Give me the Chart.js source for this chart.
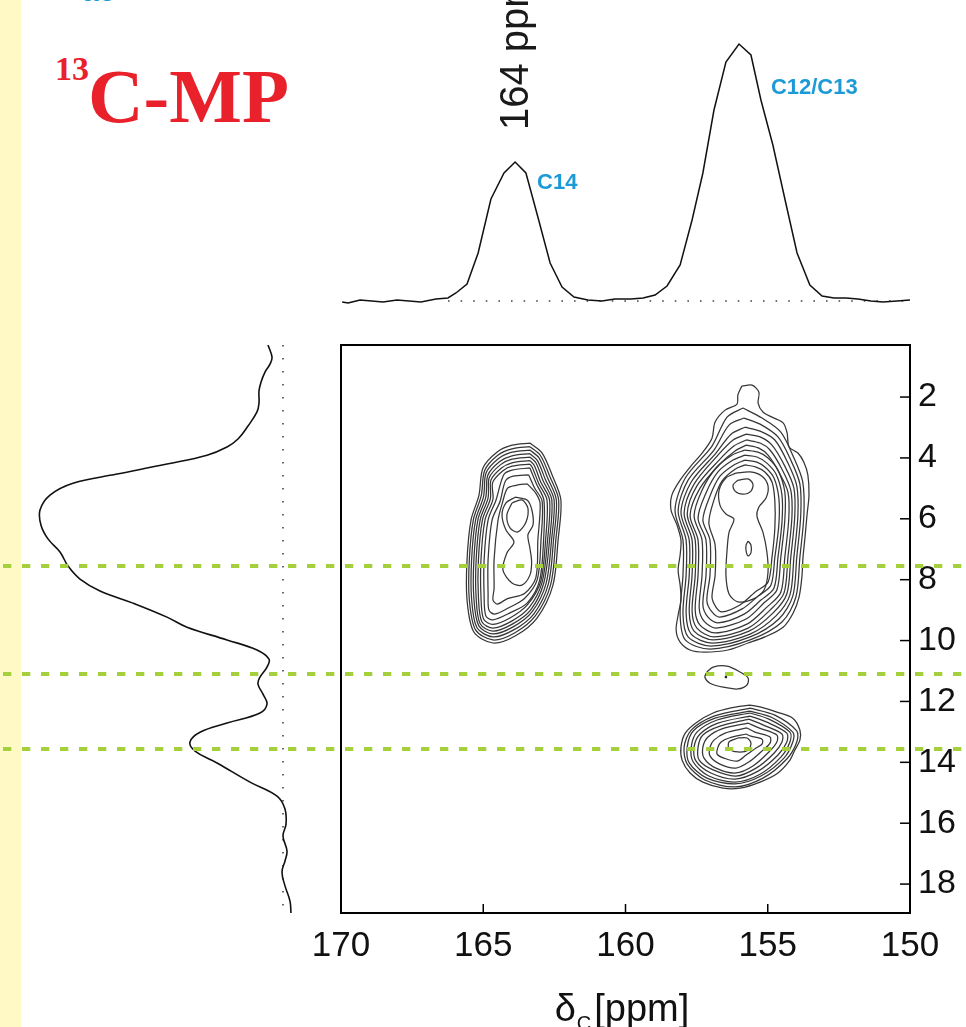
<!DOCTYPE html>
<html>
<head>
<meta charset="utf-8">
<script src="https://cdn.jsdelivr.net/npm/chart.js@4.4.1/dist/chart.umd.min.js"></script>
<style>
html,body{margin:0;padding:0;background:#fff;width:966px;height:1027px;overflow:hidden;}
#strip{position:absolute;left:0;top:0;width:21px;height:1027px;background:#fff9c6;}
canvas{position:absolute;left:0;top:0;}
.t{position:absolute;white-space:nowrap;line-height:1;}
#blue{left:82px;top:-26px;font:bold 30px "Liberation Sans";color:#1b9ad7;}
#sup{left:55px;top:50px;font:bold 34px "Liberation Serif";color:#e8212b;}
#cmp{left:88px;top:52px;font:bold 77px "Liberation Serif";color:#e8212b;}
</style>
</head>
<body>
<div id="strip"></div>
<div class="t" id="blue">ac</div>
<div class="t" id="sup">13</div>
<div class="t" id="cmp">C-MP</div>
<canvas id="left" width="966" height="1027"></canvas>
<canvas id="topc" width="966" height="1027"></canvas>
<canvas id="main" width="966" height="1027"></canvas>
<script>
// ---------- data ----------
const xTicks = [170, 165, 160, 155, 150];
const yTicks = [2, 4, 6, 8, 10, 12, 14, 16, 18];
const greenLines = [7.55, 11.1, 13.56];

// F2 (direct) projection
const topShift = [169.96,169.75,169.33,168.52,168.03,167.19,166.66,166.24,165.96,165.57,165.18,164.73,164.27,163.88,163.50,163.08,162.65,162.23,161.81,161.32,160.83,160.37,159.81,159.38,158.96,158.54,158.08,157.66,157.28,156.89,156.47,156.01,155.59,155.24,154.82,154.39,153.97,153.52,153.09,152.67,152.25,151.83,151.37,150.95,150.46,150.00];
const topIntensity = [-2,-3,0,-2,0,-2,1,2,7,16,47,101,127,138,127,83,37,13,3,0,-1,1,1,2,5,14,35,80,127,190,238,256,245,200,155,100,47,15,4,2,2,1,-1,-2,-1,0];

// F1 (indirect) projection
const leftShift = [0.29,0.69,0.92,1.18,1.51,1.80,2.20,2.49,2.95,3.38,3.64,3.91,4.20,4.53,4.83,5.22,5.71,6.21,6.66,7.09,7.55,7.98,8.37,8.77,9.23,9.56,9.98,10.31,10.61,10.87,11.20,11.43,11.76,12.09,12.38,12.71,13.01,13.33,13.63,14.02,14.65,15.11,15.53,16.03,16.42,16.91,17.24,17.60,18.06,18.56,18.98];
const leftIntensity = [15,11,13,18,22,24,24,26,35,45,56,76,116,166,210,233,243,242,235,223,215,203,183,150,116,96,56,26,14,16,23,25,20,16,23,56,83,93,88,66,33,6,-2,-3,0,-4,-2,1,-2,-7,-8];

const peakLabels = ['C14', 'C12/C13'];
const peakLabelShift = [163.11, 154.89];
const peakLabelIntensity = [117, 212];
const markerText = '164 ppm';
const markerShift = 164;
const markerIntensity = 170;

// contour rings [shift F2, shift F1]
const c14Rings = [
 [[163.36,3.51],[162.93,3.84],[162.58,4.56],[162.27,5.38],[162.37,6.70],[162.55,8.18],[163.11,9.26],[163.88,9.85],[164.66,10.08],[165.33,9.72],[165.57,8.67],[165.57,7.35],[165.43,6.04],[165.15,5.22],[165.01,4.33],[164.52,3.81],[163.99,3.58]],
 [[163.36,3.63],[162.99,3.92],[162.66,4.61],[162.35,5.38],[162.45,6.70],[162.63,8.16],[163.17,9.19],[163.90,9.75],[164.66,9.98],[165.27,9.65],[165.49,8.65],[165.49,7.35],[165.35,6.04],[165.07,5.24],[164.95,4.41],[164.49,3.91],[163.99,3.70]],
 [[163.36,3.74],[163.04,4.00],[162.74,4.65],[162.43,5.38],[162.53,6.70],[162.71,8.14],[163.22,9.12],[163.93,9.65],[164.66,9.88],[165.22,9.58],[165.41,8.63],[165.41,7.35],[165.27,6.04],[164.99,5.27],[164.90,4.49],[164.46,4.02],[163.99,3.81]],
 [[163.36,3.86],[163.10,4.08],[162.82,4.70],[162.51,5.38],[162.60,6.70],[162.79,8.12],[163.28,9.05],[163.95,9.55],[164.66,9.78],[165.16,9.51],[165.33,8.61],[165.33,7.35],[165.19,6.04],[164.91,5.29],[164.84,4.57],[164.42,4.12],[163.99,3.93]],
 [[163.36,3.97],[163.15,4.16],[162.90,4.74],[162.59,5.38],[162.67,6.70],[162.87,8.10],[163.33,8.99],[163.98,9.46],[164.66,9.69],[165.11,9.45],[165.25,8.59],[165.25,7.35],[165.11,6.04],[164.83,5.31],[164.79,4.65],[164.39,4.22],[163.99,4.04]],
 [[163.36,4.09],[163.21,4.24],[162.98,4.79],[162.67,5.38],[162.74,6.70],[162.93,8.08],[163.39,8.92],[164.00,9.36],[164.66,9.59],[165.05,9.38],[165.17,8.57],[165.17,7.35],[165.03,6.04],[164.75,5.34],[164.73,4.73],[164.36,4.33],[163.99,4.16]],
 [[163.36,4.20],[163.27,4.32],[163.05,4.84],[162.76,5.38],[162.81,6.70],[162.98,8.06],[163.45,8.83],[164.03,9.24],[164.66,9.47],[164.99,9.29],[165.08,8.55],[165.08,7.35],[164.94,6.04],[164.66,5.36],[164.67,4.81],[164.32,4.43],[163.99,4.27]],
 [[163.36,4.33],[163.12,4.87],[162.87,5.38],[162.88,6.70],[163.02,8.03],[163.45,8.76],[164.06,9.09],[164.66,9.32],[164.91,9.19],[164.97,8.52],[164.97,7.35],[164.83,6.04],[164.55,5.38],[164.28,4.55],[163.99,4.40]],
 [[163.40,4.56],[163.20,4.98],[162.93,5.42],[162.97,6.70],[163.10,7.99],[163.55,8.62],[164.10,8.92],[164.60,9.13],[164.80,9.00],[164.83,8.48],[164.83,7.35],[164.69,6.04],[164.41,5.43],[164.22,4.76],[163.95,4.60]],
 [[163.45,4.85],[163.16,5.15],[163.00,5.50],[163.08,6.70],[163.15,7.93],[163.55,8.45],[164.15,8.62],[164.50,8.80],[164.66,8.66],[164.62,8.30],[164.62,7.35],[164.48,6.04],[164.32,5.45],[164.15,5.00],[163.85,4.90]],
 [[163.88,5.29],[163.46,5.38],[163.29,5.71],[163.25,6.20],[163.43,6.53],[163.36,6.96],[163.30,7.42],[163.36,7.85],[163.64,8.18],[163.99,8.11],[164.31,7.68],[164.17,7.12],[163.92,6.76],[164.20,6.37],[164.34,5.88],[164.20,5.48]],
 [[163.99,5.48],[163.64,5.38],[163.43,5.65],[163.50,6.11],[163.78,6.43],[164.06,6.30],[164.17,5.88]]
];

const c1213Rings = [
 [[155.91,1.64],[155.55,1.61],[155.31,1.84],[155.34,2.20],[155.17,2.49],[154.85,2.66],[154.46,2.85],[154.32,3.18],[154.25,3.64],[153.94,3.84],[153.73,4.14],[153.59,4.56],[153.55,5.22],[153.62,5.88],[153.69,6.60],[153.76,7.26],[153.80,7.91],[153.90,8.57],[154.11,9.10],[154.46,9.56],[155.10,9.88],[155.69,10.08],[156.40,10.31],[157.21,10.38],[157.73,10.31],[158.08,10.05],[158.22,9.66],[158.15,9.16],[158.05,8.67],[158.08,8.18],[158.15,7.68],[158.08,7.19],[158.05,6.70],[158.19,6.20],[158.40,5.71],[158.37,5.22],[158.08,4.73],[157.73,4.30],[157.28,3.81],[156.96,3.35],[156.85,2.82],[156.50,2.43],[156.08,2.23],[156.05,1.93]],
 [[155.87,2.36],[155.20,2.69],[154.54,3.15],[154.08,4.00],[153.77,4.79],[153.73,5.88],[153.87,7.26],[154.01,8.57],[154.50,9.39],[155.62,9.98],[157.03,10.28],[157.90,9.98],[158.08,9.16],[157.98,7.85],[157.98,6.70],[158.26,5.71],[157.90,4.66],[156.96,3.61],[156.43,2.66]],
 [[155.83,2.69],[155.27,2.89],[154.64,3.31],[154.19,4.07],[153.87,4.86],[153.84,5.88],[153.98,7.26],[154.12,8.54],[154.61,9.29],[155.62,9.88],[157.00,10.18],[157.80,9.88],[157.98,9.13],[157.87,7.85],[157.87,6.70],[158.15,5.74],[157.80,4.73],[156.89,3.74],[156.36,2.92]],
 [[155.80,2.99],[155.27,3.12],[154.75,3.41],[154.29,4.17],[153.98,4.92],[153.94,5.88],[154.08,7.26],[154.22,8.50],[154.71,9.19],[155.62,9.79],[156.96,10.08],[157.69,9.79],[157.87,9.10],[157.76,7.85],[157.76,6.70],[158.05,5.78],[157.69,4.79],[156.82,3.84],[156.29,3.22]],
 [[155.76,3.22],[155.27,3.31],[154.85,3.58],[154.40,4.27],[154.08,4.99],[154.05,5.91],[154.19,7.26],[154.33,8.47],[154.82,9.10],[155.66,9.69],[156.92,9.98],[157.59,9.69],[157.76,9.06],[157.66,7.85],[157.66,6.70],[157.94,5.81],[157.59,4.86],[156.78,3.94],[156.22,3.41]],
 [[155.76,3.41],[155.27,3.51],[154.92,3.74],[154.50,4.37],[154.19,5.06],[154.15,5.94],[154.29,7.26],[154.43,8.44],[154.92,9.00],[155.69,9.59],[156.89,9.88],[157.49,9.59],[157.66,9.03],[157.55,7.85],[157.55,6.70],[157.83,5.84],[157.49,4.92],[156.71,4.07],[156.19,3.61]],
 [[155.76,3.58],[155.31,3.68],[154.99,3.91],[154.61,4.46],[154.29,5.12],[154.26,5.98],[154.40,7.26],[154.54,8.41],[155.03,8.90],[155.73,9.46],[156.85,9.75],[157.38,9.49],[157.55,9.00],[157.45,7.85],[157.45,6.70],[157.73,5.88],[157.38,4.99],[156.68,4.20],[156.15,3.77]],
 [[155.80,3.74],[155.34,3.81],[154.99,4.00],[154.64,4.40],[154.40,5.12],[154.40,6.04],[154.54,7.26],[154.68,8.34],[155.13,8.76],[155.76,9.29],[156.82,9.59],[157.24,9.36],[157.41,8.93],[157.31,7.85],[157.31,6.70],[157.59,5.91],[157.31,5.06],[156.82,4.33],[156.26,3.91]],
 [[155.80,3.91],[155.38,3.97],[155.03,4.17],[154.71,4.53],[154.50,5.22],[154.50,6.11],[154.64,7.26],[154.78,8.27],[155.24,8.67],[155.83,9.13],[156.75,9.42],[157.10,9.23],[157.28,8.83],[157.17,7.85],[157.17,6.70],[157.45,5.98],[157.17,5.15],[156.75,4.46],[156.22,4.07]],
 [[155.80,4.07],[155.38,4.14],[155.06,4.33],[154.78,4.66],[154.61,5.32],[154.61,6.20],[154.75,7.26],[154.89,8.18],[155.34,8.54],[155.90,8.96],[156.68,9.23],[156.96,9.06],[157.14,8.70],[157.03,7.85],[157.03,6.70],[157.28,6.04],[157.03,5.25],[156.68,4.60],[156.19,4.23]],
 [[155.80,4.23],[155.41,4.30],[155.10,4.46],[154.85,4.79],[154.75,5.42],[154.75,6.30],[154.85,7.26],[154.99,8.08],[155.45,8.41],[155.98,8.83],[156.61,9.06],[156.82,8.90],[156.96,8.57],[156.85,7.85],[156.85,6.86],[157.07,6.14],[156.89,5.38],[156.61,4.76],[156.15,4.37]],
 [[156.12,4.50],[155.62,4.46],[155.20,4.60],[154.99,4.92],[155.06,5.32],[155.31,5.61],[155.38,5.91],[155.17,6.44],[155.03,7.09],[154.99,7.75],[155.13,8.34],[155.52,8.64],[156.05,8.73],[156.36,8.47],[156.47,7.85],[156.43,7.03],[156.36,6.44],[156.19,6.01],[156.47,5.84],[156.68,5.55],[156.71,5.06],[156.47,4.66]],
 [[156.05,4.73],[155.69,4.69],[155.52,4.86],[155.59,5.09],[155.87,5.19],[156.15,5.09],[156.22,4.89]],
 [[155.69,6.73],[155.59,6.86],[155.59,7.12],[155.69,7.22],[155.76,7.06],[155.76,6.86]]
];

const c11Rings = [
 [[157.14,11.03],[156.92,10.87],[156.43,10.84],[155.98,11.03],[155.69,11.23],[155.73,11.46],[156.05,11.59],[156.57,11.53],[157.03,11.40],[157.21,11.20]]
];
const c11Dot = [[156.47, 11.20]];

const c13Rings = [
 [[155.62,12.12],[155.27,12.18],[154.68,12.35],[154.12,12.55],[153.87,12.94],[153.87,13.27],[154.05,13.60],[154.22,13.93],[154.64,14.35],[155.27,14.65],[155.98,14.85],[156.57,14.85],[157.28,14.65],[157.73,14.35],[158.01,13.93],[158.05,13.50],[157.90,13.04],[157.49,12.68],[156.92,12.38],[156.33,12.22]],
 [[155.62,12.22],[154.75,12.45],[153.98,12.97],[153.98,13.33],[154.33,13.89],[155.17,14.52],[156.15,14.81],[157.21,14.58],[157.83,14.06],[157.94,13.50],[157.69,12.94],[156.89,12.48]],
 [[155.62,12.32],[154.89,12.51],[154.12,13.01],[154.12,13.33],[154.43,13.86],[155.24,14.45],[156.15,14.71],[157.14,14.52],[157.76,14.02],[157.83,13.50],[157.62,12.97],[156.85,12.55]],
 [[155.62,12.38],[154.96,12.58],[154.22,13.01],[154.22,13.33],[154.54,13.83],[155.27,14.39],[156.15,14.65],[157.07,14.45],[157.62,13.99],[157.69,13.50],[157.49,13.01],[156.78,12.61]],
 [[155.62,12.48],[155.03,12.68],[154.33,13.04],[154.33,13.33],[154.64,13.76],[155.34,14.29],[156.15,14.55],[157.00,14.35],[157.52,13.96],[157.59,13.50],[157.38,13.07],[156.75,12.71]],
 [[155.66,12.58],[155.17,12.77],[154.50,13.07],[154.50,13.33],[154.78,13.70],[155.41,14.19],[156.12,14.45],[156.92,14.25],[157.41,13.93],[157.45,13.50],[157.28,13.10],[156.68,12.81]],
 [[155.69,12.71],[155.31,12.87],[154.68,13.10],[154.68,13.33],[154.96,13.66],[155.52,14.12],[156.12,14.35],[156.82,14.19],[157.24,13.86],[157.28,13.50],[157.10,13.17],[156.61,12.90]],
 [[155.73,12.87],[155.45,13.01],[154.92,13.17],[154.92,13.37],[155.17,13.60],[155.62,13.96],[156.12,14.19],[156.68,14.06],[157.03,13.79],[157.03,13.50],[156.89,13.27],[156.50,13.04]],
 [[155.76,13.07],[155.59,13.14],[155.20,13.24],[155.20,13.40],[155.41,13.53],[155.76,13.76],[156.08,13.96],[156.54,13.86],[156.78,13.73],[156.75,13.50],[156.64,13.33],[156.36,13.20]],
 [[156.05,13.20],[155.73,13.20],[155.59,13.37],[155.69,13.60],[156.05,13.66],[156.36,13.56],[156.36,13.33]]
];

// ---------- shared ----------
const FONT = '"Liberation Sans", Arial, Helvetica, sans-serif';
const Y_MIN = 0.29, Y_MAX = 18.95, X_MIN = 150, X_MAX = 170;
const base = {responsive:false, animation:false, devicePixelRatio:1,
  plugins:{legend:{display:false}, tooltip:{enabled:false}},
  elements:{point:{radius:0}}};

function ringDataset(r){
  const pts = r.concat([r[0]]).map(p => ({x:p[0], y:p[1]}));
  return {data:pts, showLine:true, borderColor:'#363636', borderWidth:1.25, pointRadius:0, tension:0.3, fill:false};
}

// ---------- left projection ----------
new Chart(document.getElementById('left'), {
  type:'scatter',
  data:{datasets:[
    {data:leftShift.map((s,i)=>({x:leftIntensity[i], y:s})), showLine:true, borderColor:'#111', borderWidth:1.6, pointRadius:0, tension:0.4},
    {data:[{x:0,y:Y_MIN},{x:0,y:Y_MAX}], showLine:true, borderColor:'#444', borderWidth:1.6, borderDash:[1.6,11.4], pointRadius:0}
  ]},
  options:Object.assign({}, base, {
    layout:{padding:{left:23, right:666, top:345, bottom:114}},
    scales:{
      x:{display:false, type:'linear', min:-17, max:260, reverse:true},
      y:{display:false, type:'linear', min:Y_MIN, max:Y_MAX, reverse:true}
    }
  })
});

// ---------- top projection ----------
const topLabelPlugin = {
  id:'topLabels',
  afterDatasetsDraw(chart){
    const {ctx, scales:{x, y}} = chart;
    ctx.save();
    ctx.fillStyle = '#1b9ad7';
    ctx.font = 'bold 22px ' + FONT;
    ctx.textAlign = 'left'; ctx.textBaseline = 'middle';
    peakLabels.forEach((t,i) => ctx.fillText(t, x.getPixelForValue(peakLabelShift[i]), y.getPixelForValue(peakLabelIntensity[i])));
    ctx.fillStyle = '#1a1a1a';
    ctx.font = '40px ' + FONT;
    ctx.translate(x.getPixelForValue(markerShift) + 16, y.getPixelForValue(markerIntensity));
    ctx.rotate(-Math.PI/2);
    ctx.textBaseline = 'alphabetic';
    ctx.fillText(markerText, 0, 0);
    ctx.restore();
  }
};
new Chart(document.getElementById('topc'), {
  type:'scatter',
  data:{datasets:[
    {data:topShift.map((s,i)=>({x:s, y:topIntensity[i]})), showLine:true, borderColor:'#111', borderWidth:1.5, pointRadius:0, tension:0},
    {data:[{x:166.24,y:-1},{x:150.2,y:-1}], showLine:true, borderColor:'#444', borderWidth:1.6, borderDash:[1.6,11], pointRadius:0}
  ]},
  options:Object.assign({}, base, {
    layout:{padding:{left:341, right:56, top:0, bottom:707}},
    scales:{
      x:{display:false, type:'linear', min:X_MIN, max:X_MAX, reverse:true},
      y:{display:false, type:'linear', min:-20, max:300}
    }
  }),
  plugins:[topLabelPlugin]
});

// ---------- main 2D plot ----------
const framePlugin = {
  id:'frame',
  afterDraw(chart){
    const {ctx, chartArea:a, scales:{x, y}} = chart;
    ctx.save();
    ctx.strokeStyle = '#000'; ctx.lineWidth = 2;
    ctx.strokeRect(a.left, a.top, a.right - a.left, a.bottom - a.top);
    ctx.lineWidth = 1.5;
    xTicks.forEach(v => { const p = x.getPixelForValue(v); ctx.beginPath(); ctx.moveTo(p, a.bottom); ctx.lineTo(p, a.bottom - 9); ctx.stroke(); });
    yTicks.forEach(v => { const p = y.getPixelForValue(v); ctx.beginPath(); ctx.moveTo(a.right, p); ctx.lineTo(a.right - 10, p); ctx.stroke(); });
    // axis title  δC [ppm]
    ctx.fillStyle = '#111';
    ctx.textBaseline = 'alphabetic'; ctx.textAlign = 'left';
    ctx.font = '38px ' + FONT; const w1 = ctx.measureText('δ').width; const w3 = ctx.measureText('[ppm]').width;
    ctx.font = '20px ' + FONT; const w2 = ctx.measureText('C').width;
    const total = w1 + w2 + 3 + w3;
    const sx = (a.left + a.right) / 2 - 4 - total / 2;
    const by = 1021;
    ctx.font = '38px ' + FONT; ctx.fillText('δ', sx, by);
    ctx.font = '20px ' + FONT; ctx.fillText('C', sx + w1 + 1, by + 9);
    ctx.font = '38px ' + FONT; ctx.fillText('[ppm]', sx + w1 + w2 + 4, by);
    // green guide lines
    ctx.setLineDash([8.3, 10.7]); ctx.lineDashOffset = 16;
    ctx.strokeStyle = '#a6cf3c'; ctx.lineWidth = 4;
    greenLines.forEach(v => { const p = y.getPixelForValue(v); ctx.beginPath(); ctx.moveTo(0, p); ctx.lineTo(chart.width, p); ctx.stroke(); });
    ctx.restore();
  }
};

const mainSets = [...c14Rings, ...c1213Rings, ...c11Rings, ...c13Rings].map(ringDataset);
mainSets.push({data:c11Dot.map(p=>({x:p[0], y:p[1]})), showLine:false, pointRadius:1.3, pointBackgroundColor:'#222', pointBorderWidth:0});

new Chart(document.getElementById('main'), {
  type:'scatter',
  data:{datasets:mainSets},
  options:Object.assign({}, base, {
    layout:{padding:{left:341, right:0, top:345, bottom:0}},
    scales:{
      x:{type:'linear', position:'bottom', min:X_MIN, max:X_MAX, reverse:true,
         afterBuildTicks:s => { s.ticks = xTicks.map(v => ({value:v})); },
         afterFit:s => { s.height = 114; },
         grid:{display:false, drawTicks:false}, border:{display:false},
         ticks:{color:'#111', font:{family:FONT, size:35}, padding:12, maxRotation:0, autoSkip:false}},
      y:{type:'linear', position:'right', min:Y_MIN, max:Y_MAX, reverse:true,
         afterBuildTicks:s => { s.ticks = yTicks.map(v => ({value:v})); },
         afterFit:s => { s.width = 56; },
         grid:{display:false, drawTicks:false}, border:{display:false},
         ticks:{color:'#111', font:{family:FONT, size:34}, padding:8, autoSkip:false}}
    }
  }),
  plugins:[framePlugin]
});
</script>
</body>
</html>
